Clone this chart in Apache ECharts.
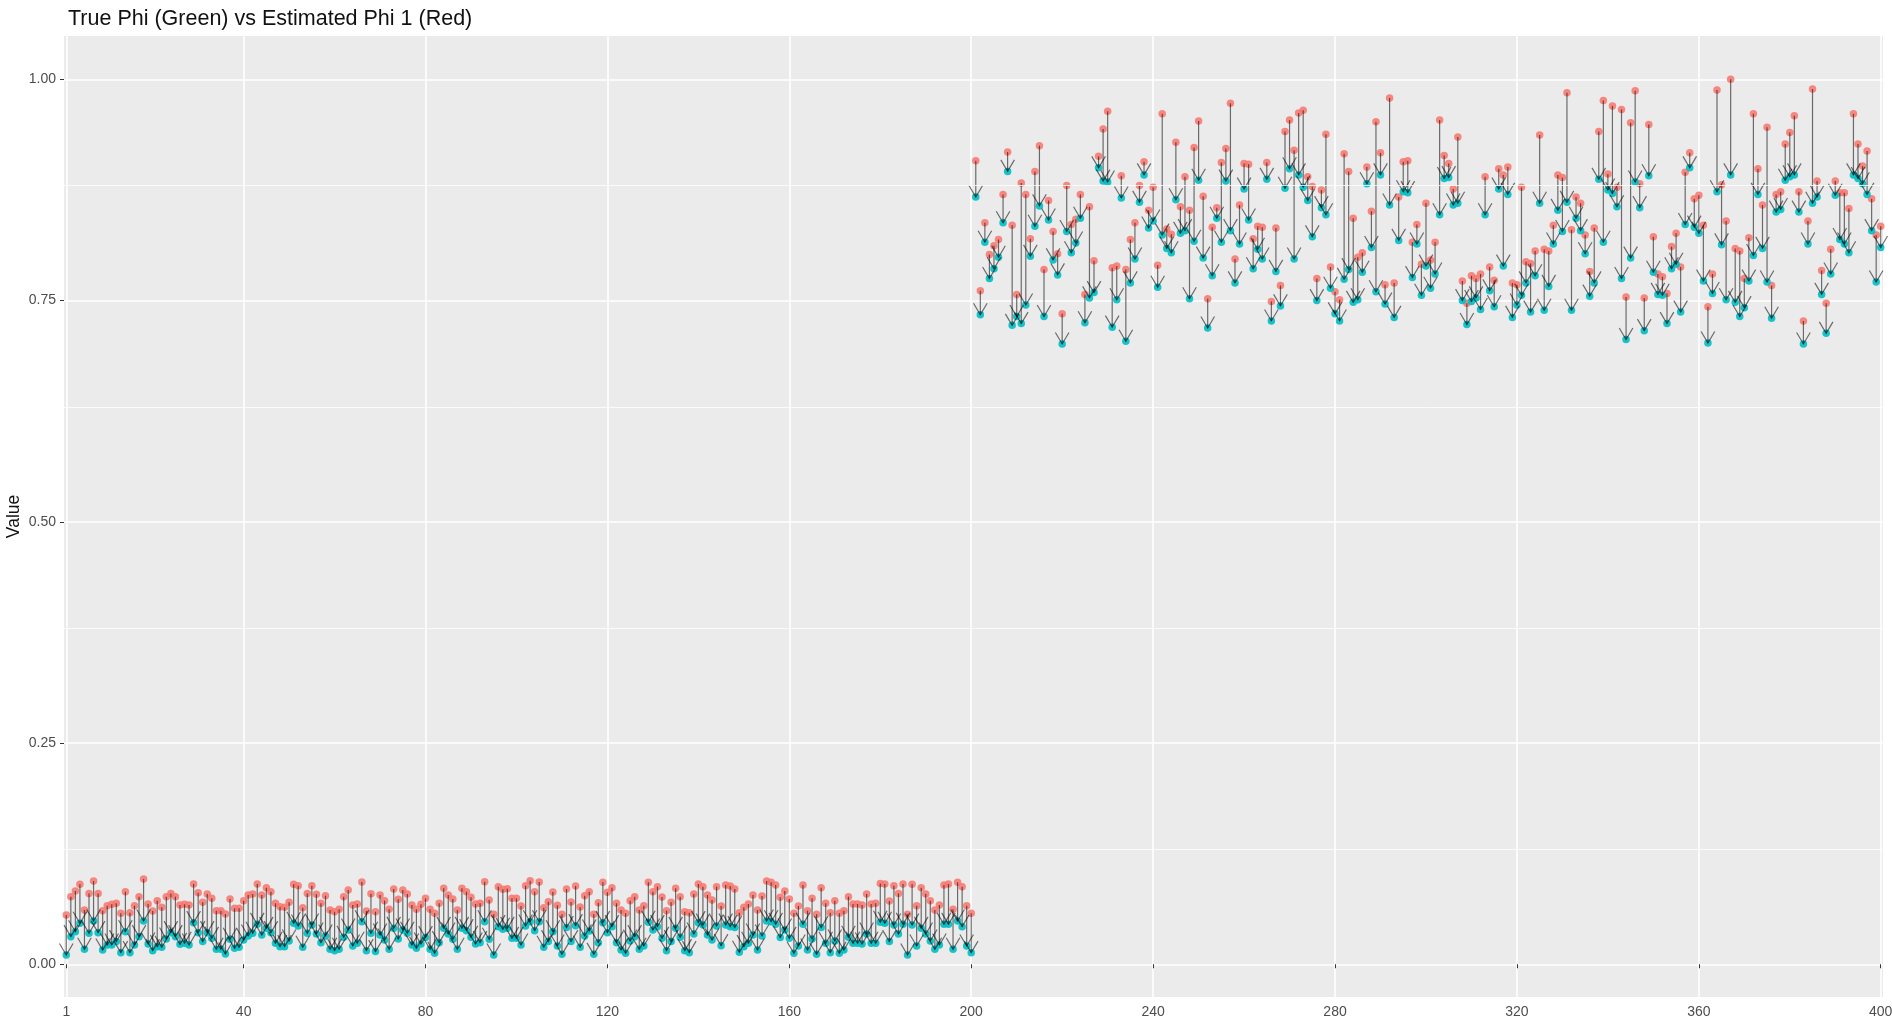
<!DOCTYPE html>
<html style="height: 100%">
<head>
    <meta charset="utf-8">
</head>
<body style="height: 100%; margin: 0; background: #ffffff">
<div id="container" style="height: 100%"></div>
<script type="text/javascript" src="https://cdn.jsdelivr.net/npm/echarts@6/dist/echarts.min.js"></script>
<script type="text/javascript">
// tick labels
var xTicks = [1, 40, 80, 120, 160, 200, 240, 280, 320, 360, 400];
var yTicks = [0, 0.25, 0.5, 0.75, 1];
var yMinor = [0.125, 0.375, 0.625, 0.875];

// estimated phi (red), points 1..200
var estLow = [
    0.0557, 0.0764, 0.0828, 0.0903, 0.0613, 0.0801, 0.0941, 0.0801, 0.0606, 0.0662,
    0.0677, 0.0689, 0.0576, 0.0820, 0.0583, 0.0662, 0.0764, 0.0963, 0.0681, 0.0602,
    0.0719, 0.0643, 0.0764, 0.0801, 0.0764, 0.0670, 0.0677, 0.0670, 0.0907, 0.0809,
    0.0700, 0.0794, 0.0745, 0.0606, 0.0606, 0.0568, 0.0737, 0.0632, 0.0632, 0.0719,
    0.0783, 0.0794, 0.0907, 0.0783, 0.0865, 0.0820, 0.0689, 0.0651, 0.0643, 0.0700,
    0.0903, 0.0888, 0.0640, 0.0801, 0.0888, 0.0790, 0.0689, 0.0775, 0.0613, 0.0594,
    0.0621, 0.0764, 0.0839, 0.0670, 0.0681, 0.0930, 0.0602, 0.0798, 0.0594, 0.0783,
    0.0719, 0.0621, 0.0850, 0.0734, 0.0839, 0.0794, 0.0670, 0.0621, 0.0677, 0.0745,
    0.0621, 0.0576, 0.0689, 0.0858, 0.0783, 0.0737, 0.0613, 0.0858, 0.0820, 0.0756,
    0.0681, 0.0689, 0.0933, 0.0726, 0.0564, 0.0877, 0.0847, 0.0854, 0.0745, 0.0745,
    0.0658, 0.0888, 0.0945, 0.0820, 0.0930, 0.0640, 0.0707, 0.0817, 0.0666, 0.0564,
    0.0850, 0.0704, 0.0884, 0.0647, 0.0775, 0.0820, 0.0564, 0.0696, 0.0926, 0.0813,
    0.0865, 0.0689, 0.0613, 0.0576, 0.0719, 0.0764, 0.0613, 0.0662, 0.0926, 0.0820,
    0.0877, 0.0760, 0.0606, 0.0700, 0.0858, 0.0764, 0.0594, 0.0583, 0.0794, 0.0907,
    0.0877, 0.0783, 0.0726, 0.0877, 0.0658, 0.0896, 0.0884, 0.0850, 0.0583, 0.0643,
    0.0681, 0.0783, 0.0613, 0.0771, 0.0941, 0.0926, 0.0896, 0.0756, 0.0828, 0.0737,
    0.0576, 0.0658, 0.0896, 0.0606, 0.0745, 0.0564, 0.0865, 0.0689, 0.0583, 0.0719,
    0.0576, 0.0606, 0.0764, 0.0681, 0.0681, 0.0670, 0.0794, 0.0681, 0.0689, 0.0914,
    0.0907, 0.0715, 0.0888, 0.0801, 0.0907, 0.0564, 0.0903, 0.0662, 0.0865, 0.0794,
    0.0719, 0.0613, 0.0670, 0.0896, 0.0907, 0.0621, 0.0926, 0.0877, 0.0662, 0.0576
];
// true phi (green), points 1..200
var trueLow = [
    0.0105, 0.0312, 0.0368, 0.0463, 0.0169, 0.0350, 0.0489, 0.0357, 0.0161, 0.0218,
    0.0218, 0.0256, 0.0131, 0.0368, 0.0131, 0.0218, 0.0312, 0.0489, 0.0229, 0.0154,
    0.0199, 0.0192, 0.0286, 0.0357, 0.0312, 0.0225, 0.0237, 0.0218, 0.0470, 0.0357,
    0.0256, 0.0357, 0.0293, 0.0169, 0.0169, 0.0116, 0.0282, 0.0180, 0.0192, 0.0274,
    0.0320, 0.0350, 0.0451, 0.0331, 0.0406, 0.0357, 0.0237, 0.0199, 0.0199, 0.0263,
    0.0463, 0.0432, 0.0192, 0.0350, 0.0444, 0.0342, 0.0244, 0.0320, 0.0169, 0.0154,
    0.0169, 0.0305, 0.0387, 0.0207, 0.0237, 0.0481, 0.0154, 0.0350, 0.0143, 0.0331,
    0.0274, 0.0169, 0.0406, 0.0286, 0.0387, 0.0350, 0.0218, 0.0180, 0.0229, 0.0301,
    0.0169, 0.0124, 0.0244, 0.0406, 0.0342, 0.0282, 0.0169, 0.0406, 0.0380, 0.0305,
    0.0229, 0.0244, 0.0481, 0.0282, 0.0105, 0.0425, 0.0395, 0.0406, 0.0293, 0.0293,
    0.0218, 0.0432, 0.0481, 0.0380, 0.0481, 0.0192, 0.0256, 0.0368, 0.0207, 0.0112,
    0.0414, 0.0256, 0.0436, 0.0192, 0.0320, 0.0376, 0.0112, 0.0244, 0.0470, 0.0357,
    0.0425, 0.0244, 0.0161, 0.0124, 0.0263, 0.0312, 0.0169, 0.0207, 0.0474, 0.0387,
    0.0425, 0.0293, 0.0154, 0.0256, 0.0406, 0.0305, 0.0154, 0.0131, 0.0342, 0.0470,
    0.0444, 0.0331, 0.0274, 0.0432, 0.0210, 0.0444, 0.0425, 0.0414, 0.0135, 0.0199,
    0.0237, 0.0331, 0.0161, 0.0320, 0.0489, 0.0481, 0.0451, 0.0301, 0.0387, 0.0293,
    0.0124, 0.0207, 0.0451, 0.0161, 0.0286, 0.0112, 0.0414, 0.0237, 0.0131, 0.0263,
    0.0124, 0.0161, 0.0305, 0.0237, 0.0237, 0.0229, 0.0342, 0.0237, 0.0237, 0.0474,
    0.0463, 0.0256, 0.0444, 0.0342, 0.0451, 0.0105, 0.0444, 0.0207, 0.0406, 0.0342,
    0.0263, 0.0169, 0.0218, 0.0451, 0.0451, 0.0169, 0.0489, 0.0425, 0.0207, 0.0131
];
// estimated phi (red), points 201..400
var estHigh = [
    0.908, 0.761, 0.838, 0.802, 0.812, 0.819, 0.870, 0.918, 0.835, 0.757,
    0.883, 0.870, 0.820, 0.896, 0.925, 0.785, 0.863, 0.828, 0.803, 0.735,
    0.880, 0.836, 0.842, 0.870, 0.757, 0.856, 0.795, 0.913, 0.944, 0.964,
    0.787, 0.789, 0.891, 0.785, 0.819, 0.838, 0.880, 0.907, 0.852, 0.878,
    0.790, 0.961, 0.831, 0.825, 0.929, 0.856, 0.890, 0.852, 0.923, 0.953,
    0.868, 0.752, 0.833, 0.855, 0.906, 0.922, 0.973, 0.797, 0.858, 0.905,
    0.904, 0.820, 0.834, 0.833, 0.906, 0.749, 0.832, 0.767, 0.941, 0.954,
    0.920, 0.962, 0.965, 0.890, 0.879, 0.775, 0.875, 0.938, 0.788, 0.760,
    0.751, 0.916, 0.896, 0.843, 0.799, 0.804, 0.901, 0.851, 0.952, 0.917,
    0.768, 0.979, 0.770, 0.867, 0.907, 0.908, 0.816, 0.836, 0.791, 0.860,
    0.796, 0.816, 0.954, 0.914, 0.905, 0.876, 0.935, 0.772, 0.747, 0.778,
    0.775, 0.780, 0.890, 0.788, 0.773, 0.899, 0.892, 0.901, 0.770, 0.768,
    0.878, 0.794, 0.792, 0.806, 0.937, 0.808, 0.806, 0.835, 0.892, 0.889,
    0.985, 0.830, 0.867, 0.860, 0.824, 0.783, 0.832, 0.941, 0.976, 0.893,
    0.970, 0.878, 0.966, 0.754, 0.951, 0.987, 0.882, 0.753, 0.949, 0.822,
    0.780, 0.777, 0.758, 0.811, 0.826, 0.788, 0.895, 0.917, 0.865, 0.869,
    0.835, 0.743, 0.780, 0.988, 0.881, 0.840, 1.000, 0.809, 0.806, 0.775,
    0.821, 0.961, 0.899, 0.858, 0.946, 0.767, 0.870, 0.873, 0.927, 0.940,
    0.959, 0.873, 0.727, 0.840, 0.989, 0.885, 0.784, 0.747, 0.808, 0.885,
    0.872, 0.872, 0.854, 0.961, 0.927, 0.902, 0.919, 0.865, 0.824, 0.834
];
// true phi (green), points 201..400
var trueHigh = [
    0.867, 0.734, 0.816, 0.775, 0.786, 0.799, 0.838, 0.896, 0.722, 0.732,
    0.724, 0.745, 0.800, 0.834, 0.857, 0.732, 0.841, 0.796, 0.779, 0.701,
    0.828, 0.804, 0.815, 0.843, 0.725, 0.753, 0.759, 0.900, 0.885, 0.884,
    0.720, 0.751, 0.866, 0.704, 0.770, 0.797, 0.861, 0.892, 0.832, 0.840,
    0.765, 0.824, 0.809, 0.804, 0.864, 0.826, 0.829, 0.752, 0.817, 0.886,
    0.798, 0.719, 0.778, 0.843, 0.816, 0.885, 0.829, 0.770, 0.814, 0.876,
    0.841, 0.786, 0.808, 0.797, 0.887, 0.727, 0.783, 0.744, 0.877, 0.899,
    0.797, 0.892, 0.878, 0.863, 0.822, 0.750, 0.855, 0.847, 0.764, 0.735,
    0.727, 0.774, 0.785, 0.748, 0.751, 0.782, 0.882, 0.810, 0.760, 0.892,
    0.746, 0.858, 0.731, 0.818, 0.873, 0.872, 0.776, 0.814, 0.756, 0.789,
    0.764, 0.780, 0.847, 0.888, 0.889, 0.858, 0.860, 0.750, 0.723, 0.749,
    0.753, 0.740, 0.847, 0.761, 0.743, 0.876, 0.789, 0.870, 0.731, 0.745,
    0.756, 0.770, 0.737, 0.778, 0.860, 0.739, 0.766, 0.814, 0.852, 0.828,
    0.861, 0.739, 0.843, 0.829, 0.803, 0.755, 0.770, 0.887, 0.816, 0.875,
    0.871, 0.856, 0.775, 0.706, 0.798, 0.884, 0.855, 0.716, 0.891, 0.782,
    0.757, 0.756, 0.724, 0.786, 0.791, 0.737, 0.836, 0.900, 0.833, 0.826,
    0.772, 0.702, 0.758, 0.873, 0.813, 0.751, 0.892, 0.748, 0.732, 0.742,
    0.772, 0.801, 0.870, 0.809, 0.771, 0.730, 0.850, 0.853, 0.886, 0.890,
    0.892, 0.850, 0.701, 0.814, 0.860, 0.867, 0.757, 0.713, 0.780, 0.869,
    0.819, 0.814, 0.804, 0.892, 0.888, 0.882, 0.870, 0.829, 0.771, 0.810
];

var estPhi = estLow.concat(estHigh);
var truePhi = trueLow.concat(trueHigh);

var redData = [], greenData = [], arrowData = [];
for (var i = 0; i < estPhi.length; i++) {
    redData.push([i + 1, estPhi[i]]);
    greenData.push([i + 1, truePhi[i]]);
    arrowData.push([i + 1, estPhi[i], truePhi[i]]);
}

var dom = document.getElementById('container');
var myChart = echarts.init(dom);
var font = 'Liberation Sans, Arial, Helvetica, sans-serif';

// segment from estimate to truth with an open arrow head
function renderArrow(params, api) {
    var p0 = api.coord([api.value(0), api.value(1)]);
    var p1 = api.coord([api.value(0), api.value(2)]);
    var dir = p1[1] >= p0[1] ? 1 : -1;
    var hx = 6.8, hy = 11.5;
    var stroke = 'rgba(0,0,0,0.55)';
    return {
        type: 'group',
        children: [
            {
                type: 'line',
                shape: { x1: p0[0], y1: p0[1], x2: p1[0], y2: p1[1] },
                style: { stroke: stroke, lineWidth: 1.2 }
            },
            {
                type: 'polyline',
                shape: { points: [[p1[0] - hx, p1[1] - dir * hy], [p1[0], p1[1]], [p1[0] + hx, p1[1] - dir * hy]] },
                style: { stroke: stroke, lineWidth: 1.2, fill: 'none' }
            }
        ]
    };
}

var option = {
    animation: false,
    backgroundColor: '#ffffff',
    title: {
        text: 'True Phi (Green) vs Estimated Phi 1 (Red)',
        left: 63,
        top: 3,
        textStyle: { fontFamily: font, fontSize: 21.5, fontWeight: 'normal', color: '#111' }
    },
    grid: {
        left: 64, right: 9, top: 36, bottom: 39,
        containLabel: false,
        outerBoundsMode: 'none',
        show: true, backgroundColor: '#EBEBEB', borderWidth: 0
    },
    xAxis: {
        type: 'value',
        min: 0.5,
        max: 400.5,
        axisLine: { show: false },
        axisTick: { show: true, customValues: xTicks, length: 4, lineStyle: { color: '#333' } },
        axisLabel: { customValues: xTicks, color: '#4d4d4d', fontSize: 14, fontFamily: font, margin: 8 },
        splitLine: { show: true, lineStyle: { color: '#ffffff', width: 1.6 } }
    },
    yAxis: {
        type: 'value',
        min: -0.037,
        max: 1.049,
        name: 'Value',
        nameLocation: 'middle',
        nameGap: 41,
        nameMoveOverlap: false,
        nameTextStyle: { fontFamily: font, fontSize: 17.5, color: '#111' },
        axisLine: { show: false },
        axisTick: { show: true, customValues: yTicks, length: 4, lineStyle: { color: '#333' } },
        axisLabel: {
            customValues: yTicks, color: '#4d4d4d', fontSize: 14, fontFamily: font, margin: 8,
            formatter: function (v) { return v.toFixed(2); }
        },
        splitLine: { show: true, lineStyle: { color: '#ffffff', width: 1.6 } }
    },
    series: [
        {
            type: 'line',
            data: [],
            z: 1,
            markLine: {
                silent: true,
                symbol: 'none',
                label: { show: false },
                lineStyle: { color: '#ffffff', width: 0.8, type: 'solid' },
                data: yMinor.map(function (v) { return { yAxis: v }; })
            }
        },
        {
            name: 'Estimated',
            type: 'scatter',
            data: redData,
            symbolSize: 7.5,
            itemStyle: { color: '#F8766D', opacity: 0.85 },
            z: 2
        },
        {
            name: 'True',
            type: 'scatter',
            data: greenData,
            symbolSize: 7.5,
            itemStyle: { color: '#00BFC4', opacity: 0.9 },
            z: 3
        },
        {
            type: 'custom',
            data: arrowData,
            encode: { x: 0, y: [1, 2] },
            renderItem: renderArrow,
            z: 4
        }
    ]
};

if (option && typeof option === 'object') {
    myChart.setOption(option);
}
</script>
</body>
</html>
